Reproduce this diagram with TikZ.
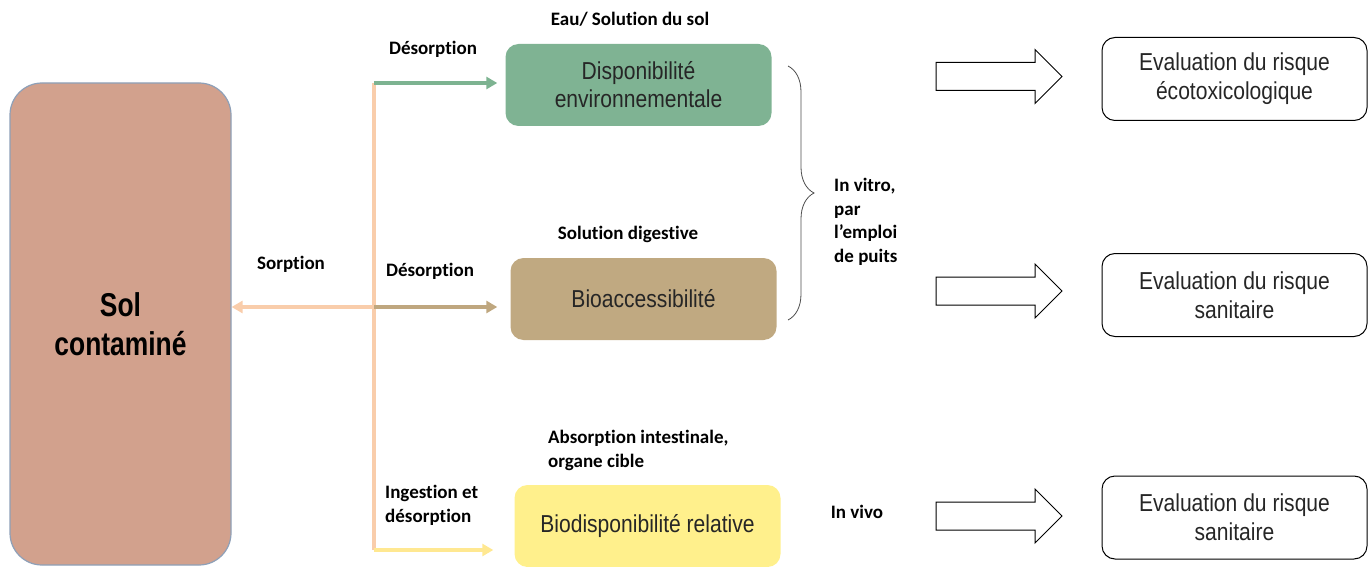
\documentclass[tikz,border=0pt]{standalone}
\usepackage{fontspec}
\setmainfont[RawFeature=-liga]{Carlito}
\newfontfamily\boxfont[FakeStretch=0.86]{Liberation Sans}
\newfontfamily\solfont[FakeStretch=0.8]{Liberation Sans}
\usetikzlibrary{arrows.meta,shapes.arrows,decorations.pathreplacing}
\definecolor{solfill}{HTML}{D2A18D}
\definecolor{soldraw}{HTML}{8EA0B8}
\definecolor{envfill}{HTML}{7FB393}
\definecolor{biofill}{HTML}{C0A981}
\definecolor{relfill}{HTML}{FFF08C}
\definecolor{peach}{HTML}{F9CDAB}
\definecolor{envarr}{HTML}{7DB391}
\definecolor{bioarr}{HTML}{BFA77F}
\definecolor{relarr}{HTML}{FFE891}
\tikzset{
  colbox/.style={rounded corners=13pt, minimum width=266pt, minimum height=82pt, align=center, inner sep=0pt, font=\boxfont\fontsize{24.5}{28}\selectfont, text=black!85},
  evalbox/.style={draw=black, line width=1pt, rounded corners=13pt, minimum width=265pt, minimum height=83pt, align=center, inner sep=0pt, font=\boxfont\fontsize{24.5}{29}\selectfont, text=black!85},
  lbl/.style={font=\bfseries\fontsize{19}{23.5}\selectfont, inner sep=0pt, align=left},
  flow/.style={line width=4pt, -{Triangle[length=11pt,width=12pt]}},
  blockarrow/.style={draw=black, line width=1pt, single arrow, minimum height=126pt, minimum width=53pt, single arrow head extend=13pt, single arrow tip angle=90, inner sep=0pt}
}
\begin{document}
\begin{tikzpicture}[x=1pt,y=-1pt]
\useasboundingbox (0,0) rectangle (1368,567);
% soil
\node[draw=soldraw, line width=1.2pt, fill=solfill, rounded corners=32pt, minimum width=221pt, minimum height=482pt, inner sep=0pt, align=center, font=\solfont\bfseries\fontsize{33}{39}\selectfont] (sol) at (120.5,324) {Sol\\contaminé};
% availability boxes
\node[colbox, fill=envfill] (env) at (638.5,85) {Disponibilité\\environnementale};
\node[colbox, fill=biofill] (bio) at (643.5,299) {Bioaccessibilité};
\node[colbox, fill=relfill] (rel) at (647.5,526) {Biodisponibilité relative};
% evaluation boxes
\node[evalbox] (ev1) at (1234.5,79) {Evaluation du risque\\écotoxicologique};
\node[evalbox] (ev2) at (1234.5,295) {Evaluation du risque\\sanitaire};
\node[evalbox] (ev3) at (1234.5,517.5) {Evaluation du risque\\sanitaire};
% block arrows
\node[blockarrow] (ba1) at (992,76.5) {\rule{0pt}{27pt}};
\node[blockarrow] (ba2) at (992,291) {\rule{0pt}{27pt}};
\node[blockarrow] (ba3) at (992,516) {\rule{0pt}{27pt}};
% junction coordinates
\coordinate (jtop) at (374,83);
\coordinate (jmid) at (374,307);
\coordinate (jbot) at (374,550);
\draw[peach, line width=4pt] (jtop) -- (jbot);
\draw[flow, envarr, shorten >=8pt] (jtop) -- (jtop -| env.west);
\draw[flow, bioarr, shorten >=13pt] (jmid) -- (jmid -| bio.west);
\draw[flow, relarr, shorten >=21pt] (jbot) -- (jbot -| rel.west);
\draw[flow, peach] (jmid) -- (jmid -| sol.east);
% brace
\coordinate (btop) at (788,66);
\coordinate (bbot) at (788,320);
\draw[black!70, line width=0.8pt, decorate, decoration={brace, amplitude=26pt, aspect=0.5}] (btop) -- (bbot);
% labels
\node[lbl] (l1) at (433,49) {Désorption};
\node[lbl] (l2) at (630,19) {Eau/ Solution du sol};
\node[lbl] (l3) at (291,264) {Sorption};
\node[lbl] (l4) at (430,271) {Désorption};
\node[lbl] (l5) at (628,234) {Solution digestive};
\node[lbl, anchor=west] (l6) at (548,450.5) {Absorption intestinale,\\organe cible};
\node[lbl, anchor=west] (l7) at (385,505.5) {Ingestion et\\désorption};
\node[lbl] (l8) at (857,512) {In vivo};
\node[lbl, anchor=west] (l9) at (834,222) {In vitro,\\par\\l’emploi\\de puits};
\end{tikzpicture}
\end{document}
